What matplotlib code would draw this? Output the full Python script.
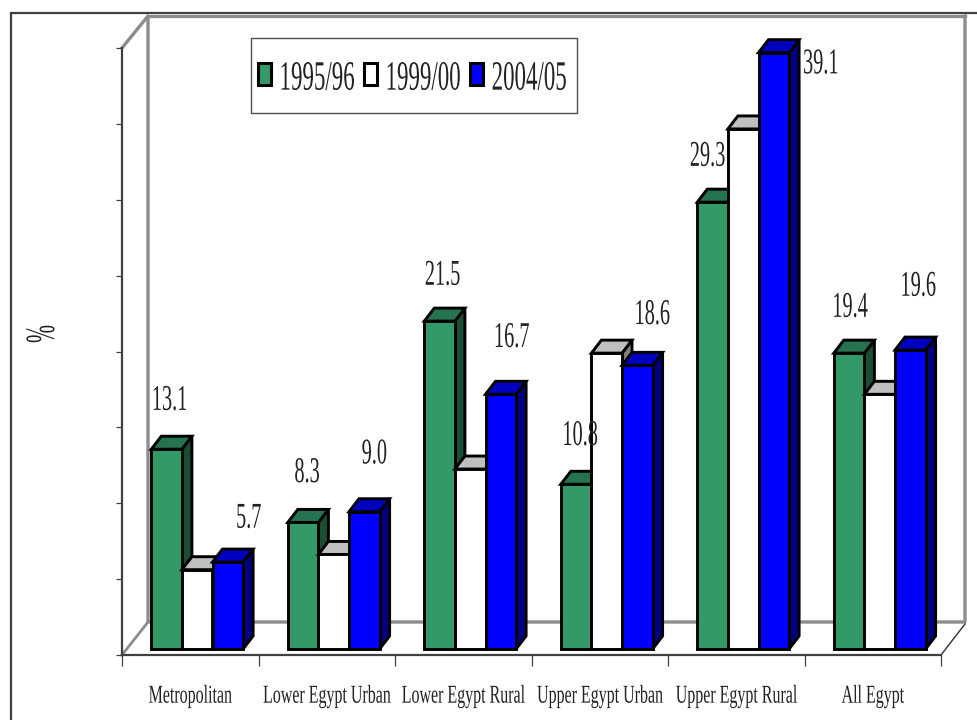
import matplotlib
matplotlib.use('Agg')
import matplotlib.pyplot as plt
from matplotlib.patches import Polygon, Rectangle
from matplotlib.patheffects import AbstractPathEffect
from matplotlib.transforms import Affine2D

plt.rcParams['font.family'] = ['Liberation Serif', 'DejaVu Serif']

categories = ['Metropolitan', 'Lower Egypt Urban', 'Lower Egypt Rural',
              'Upper Egypt Urban', 'Upper Egypt Rural', 'All Egypt']
years = ['1995/96', '1999/00', '2004/05']
values_9596 = [13.1, 8.3, 21.5, 10.8, 29.3, 19.4]
values_9900 = [5.2, 6.2, 11.8, 19.4, 34.1, 16.7]
values_0405 = [5.7, 9.0, 16.7, 18.6, 39.1, 19.6]

# front, top and side colour of each series
colours = [('#339966', '#267350', '#1a4d33'),
           ('#ffffff', '#bfbfbf', '#808080'),
           ('#0000ff', '#0000bf', '#000080')]

# label shift from the top of the bar, in pixels (series 1 and 3 only)
shift_9596 = [(3, 49), (4, 50), (3, 46), (4, 49), (-5, 46), (1, 46)]
shift_0405 = [(21, 44), (10, 58), (11, 57), (15, 51), (47, -11), (8, 64)]

WALL = '#8c8c8c'
AXIS = '#404040'
INK = '#222222'


class Tall(AbstractPathEffect):
    # stretches text vertically around its own middle
    def __init__(self, factor):
        super().__init__()
        self.factor = factor

    def draw_path(self, renderer, gc, tpath, affine, rgbFace=None):
        ext = tpath.get_extents()
        cy = (ext.y0 + ext.y1) / 2
        stretch = Affine2D().translate(0, -cy).scale(1, self.factor).translate(0, cy)
        renderer.draw_path(gc, tpath, stretch + affine, rgbFace)


fig = plt.figure(figsize=(9.78, 7.2), dpi=100, facecolor='white')

# background layer in pixel coordinates: outer frame, walls, legend
bg = fig.add_axes([0, 0, 1, 1], zorder=0)
bg.set_xlim(0, 978)
bg.set_ylim(720, 0)
bg.axis('off')

bg.plot([11, 11, 978], [720, 13, 13], color=AXIS, lw=1.6, solid_joinstyle='miter')
bg.plot([122, 148, 148, 965, 965], [48, 16, 622, 622, 16], color=WALL, lw=2.4)
bg.plot([148, 965], [16, 16], color=WALL, lw=2.4)
bg.plot([122, 148], [655, 622], color=WALL, lw=2.0)
bg.plot([941, 965], [655, 624], color='#303030', lw=1.0)

# legend
bg.add_patch(Rectangle((250.5, 38), 326.5, 75, fc='white', ec='#505050', lw=1.0, zorder=3))
for k, year in enumerate(years):
    x0 = 258 + k * 106
    bg.add_patch(Rectangle((x0, 63), 13, 22, fc=colours[k][0], ec='black', lw=2.2, zorder=4))
    bg.text(x0 + 59, 78, year, fontsize=16.5, color=INK, ha='center', va='center',
            zorder=4, path_effects=[Tall(1.82)])

bg.text(43, 334, '%', fontsize=15.6, color=INK, rotation=90, ha='center', va='center',
        path_effects=[Tall(1.92)])

# chart layer: x in categories, y in percent
ax = fig.add_axes([122 / 978, 65 / 720, 819 / 978, 607 / 720], zorder=1)
ax.patch.set_alpha(0)
ymax = 39.8
ax.set_xlim(0, 6)
ax.set_ylim(0, ymax)

px_x = 6 / 819
px_y = ymax / 607
depth_x = 10 * px_x
depth_y = 13 * px_y
base = 6 * px_y
bar_w = 30.6 * px_x
start = 29.3 * px_x

for k, vals in enumerate([values_9596, values_9900, values_0405]):
    front, top, side = colours[k]
    for i, v in enumerate(vals):
        x0 = i + start + k * bar_w
        x1 = x0 + bar_w
        y1 = base + v
        z = 3 + i + k * 0.1
        style = dict(ec='black', lw=2.1, joinstyle='miter', zorder=z, clip_on=False)
        ax.add_patch(Polygon([(x1, base), (x1 + depth_x, base + depth_y),
                              (x1 + depth_x, y1 + depth_y), (x1, y1)], fc=side, **style))
        ax.add_patch(Polygon([(x0, y1), (x0 + depth_x, y1 + depth_y),
                              (x1 + depth_x, y1 + depth_y), (x1, y1)], fc=top, **style))
        ax.bar(x0, v, bar_w, bottom=base, align='edge', color=front, edgecolor='black',
               linewidth=2.1, zorder=z, clip_on=False)

# value labels go on top of the bars
for vals, shifts, k in [(values_9596, shift_9596, 0), (values_0405, shift_0405, 2)]:
    for i, v in enumerate(vals):
        ax.annotate(f'{v:.1f}', (i + start + (k + 0.5) * bar_w, base + v),
                    xytext=(shifts[i][0], shifts[i][1]), textcoords='offset pixels',
                    fontsize=14.6, color=INK, ha='center', va='center', zorder=20,
                    annotation_clip=False, path_effects=[Tall(1.79)])

for name in ['top', 'right']:
    ax.spines[name].set_visible(False)
for name in ['left', 'bottom']:
    ax.spines[name].set_color(AXIS)
    ax.spines[name].set_linewidth(1.6)

ax.set_yticks([ymax * n / 8 for n in range(9)])
ax.set_yticklabels([])
ax.tick_params(axis='y', length=4.5, width=0.9, color=AXIS)
ax.set_xticks(range(7))
ax.set_xticklabels([])
ax.tick_params(axis='x', which='major', length=8, width=0.9, color=AXIS)
ax.set_xticks([i + 0.5 for i in range(6)], minor=True)
ax.set_xticklabels(categories, minor=True, fontsize=11.5, color=INK)
ax.tick_params(axis='x', which='minor', length=0, pad=24)
for label in ax.get_xticklabels(minor=True):
    label.set_path_effects([Tall(1.61)])

fig.savefig('out.png', dpi=100)
